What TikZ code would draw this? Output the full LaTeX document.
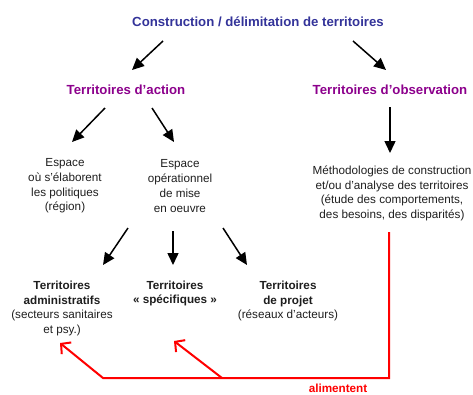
\documentclass[tikz,border=0pt]{standalone}
\usepackage{fontspec}
\setmainfont{Liberation Sans}
\usepackage{tikz}
\usetikzlibrary{arrows.meta}

\definecolor{titleblue}{RGB}{51,51,153}
\definecolor{headpurple}{RGB}{140,0,140}
\definecolor{txtgray}{RGB}{30,30,30}

\begin{document}
\begin{tikzpicture}[x=1pt, y=-1pt,
		txt/.style={align=center, text=txtgray, inner sep=0pt, font=\fontsize{11.7}{14.7}\selectfont},
		head/.style={inner sep=0pt, font=\fontsize{13.2}{16}\selectfont\bfseries},
		arr/.style={line width=1.5pt, -{Triangle[length=12pt,width=11pt]}},
		feed/.style={red, line width=2pt, -{Straight Barb[length=7pt,width=15pt]}}]
			\useasboundingbox (0,0) rectangle (473,394);
			\node[head, text=titleblue] (title) at (258,22) {Construction / délimitation de territoires};
			\node[head, text=headpurple] (action) at (126,90) {Territoires d’action};
			\node[head, text=headpurple] (observ) at (390,90) {Territoires d’observation};
			\node[txt] (elab) at (65,186) {Espace\\où s'élaborent\\les politiques\\(région)};
			\node[txt] (oper) at (180,186) {Espace\\opérationnel\\de mise\\en oeuvre};
			\node[txt] (methodo) at (392,193.5) {Méthodologies de construction\\et/ou d’analyse des territoires\\(étude des comportements,\\des besoins, des disparités)};
			\node[txt] (admin) at (62,308.5) {\textbf{Territoires}\\\textbf{administratifs}\\(secteurs sanitaires\\et psy.)};
			\node[txt] (spec) at (175,293.5) {\textbf{Territoires}\\\textbf{« spécifiques »}};
			\node[txt] (projet) at (288,301) {\textbf{Territoires}\\\textbf{de projet}\\(réseaux d’acteurs)};
			\node[txt, text=red, font=\fontsize{11.7}{14.7}\selectfont\bfseries] (feedlbl) at (338,388) {alimentent};
			\coordinate (join) at (222,378);
			\path[arr]
			([shift={(-95,19)}]title.center) edge ([shift={(6,-20)}]action.center)
			([shift={(95,19)}]title.center) edge ([shift={(-4,-20)}]observ.center)
			([shift={(-21,18)}]action.center) edge ([shift={(7,-44)}]elab.center)
			([shift={(26,18)}]action.center) edge ([shift={(-6,-44)}]oper.center)
			([shift={(0,17)}]observ.center) edge ([shift={(-2,-40.5)}]methodo.center)
			([shift={(-52,42)}]oper.center) edge ([shift={(41,-43.5)}]admin.center)
			([shift={(-7,45)}]oper.center) edge ([shift={(-2,-28.5)}]spec.center)
			([shift={(43,42)}]oper.center) edge ([shift={(-41,-36)}]projet.center);
			\draw[feed] ([shift={(-3,38.5)}]methodo.center) |- ([shift={(41,69.5)}]admin.center) -- ([shift={(-2,34.5)}]admin.center);
			\draw[feed] (join) -- ([shift={(-1,47.5)}]spec.center);
		\end{tikzpicture}
\end{document}
